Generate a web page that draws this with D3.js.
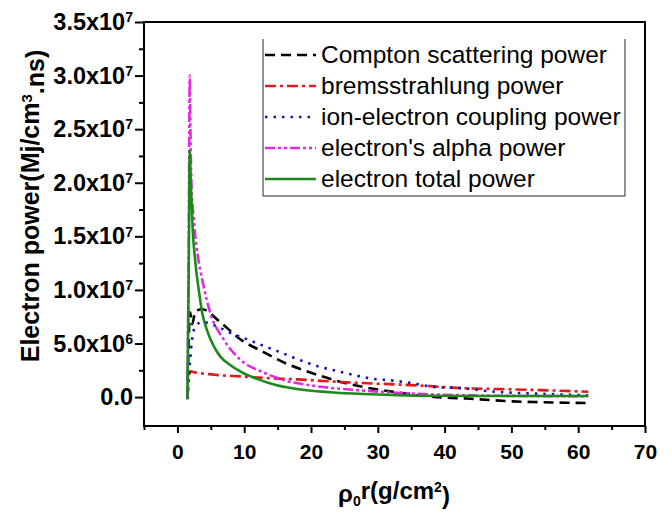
<!DOCTYPE html>
<html lang="en">
<head>
    <meta charset="utf-8">
    <title>Electron power</title>
    <script src="https://d3js.org/d3.v7.min.js"></script>
    <style>
        body { margin: 0; background: #fff; }
        text { font-family: "Liberation Sans", Arial, sans-serif; }
    </style>
</head>
<body onload="main()">
    <svg width="672" height="513" id="svg1"></svg>
    <script>
        // [rho0 r (g/cm2), power (Mj/cm3.ns)]
        var compton = [[1.5, 0], [1.9, 7.9e6], [2.2, 6.8e6], [2.7, 8.0e6], [3.7, 8.2e6], [6.4, 7.0e6],
            [9.4, 5.4e6], [12.9, 4.2e6], [16.4, 3.1e6], [19.9, 2.3e6], [23.9, 1.5e6], [27.9, 0.93e6],
            [32.8, 0.45e6], [36.8, 0.12e6], [40, -0.05e6], [43.3, -0.14e6], [46.8, -0.28e6],
            [50.2, -0.4e6], [53.8, -0.47e6], [58.3, -0.53e6], [61.5, -0.56e6]];
        var brems = [[1.5, 0], [1.9, 2.4e6], [2.7, 2.3e6], [6.1, 2.05e6], [9.4, 1.93e6], [14.4, 1.74e6],
            [17.9, 1.65e6], [25.4, 1.37e6], [32.8, 1.18e6], [37.8, 1.02e6], [43.3, 0.81e6],
            [48.7, 0.74e6], [54.3, 0.65e6], [61.5, 0.5e6]];
        var ionElectron = [[1.5, -0.2e6], [1.95, 3.8e6], [2.2, 5.4e6], [2.7, 6.6e6], [3.7, 7.0e6],
            [5.9, 6.6e6], [7.9, 6.0e6], [10.4, 5.4e6], [12.4, 4.9e6], [14.9, 4.3e6], [20.9, 2.9e6],
            [24.8, 2.3e6], [28.8, 1.75e6], [32.8, 1.5e6], [35.1, 1.3e6], [38.3, 0.95e6], [43.3, 0.8e6],
            [45.7, 0.6e6], [50.2, 0.4e6], [54.7, 0.3e6], [61.5, 0.15e6]];
        var alpha = [[1.5, 0], [1.7, 1.5e7], [1.85, 3.0e7], [1.95, 2.5e7], [2.1, 2.0e7], [2.45, 1.66e7],
            [3.2, 1.26e7], [3.7, 1.1e7], [4.9, 7.9e6], [6.9, 5.4e6], [9.4, 3.5e6], [12.9, 2.3e6],
            [16.4, 1.5e6], [20.4, 1.05e6], [27.9, 0.6e6], [36.8, 0.28e6], [45, 0.15e6], [52, 0.1e6],
            [61.5, 0.08e6]];
        var total = [[1.5, -0.2e6], [1.7, 1.2e7], [1.85, 2.3e7], [2.0, 2.0e7], [2.3, 1.55e7], [2.7, 1.25e7],
            [3.2, 1.0e7], [3.7, 7.9e6], [4.4, 6.3e6], [5.4, 4.8e6], [6.4, 3.8e6], [7.9, 3.0e6],
            [9.4, 2.4e6], [11.9, 1.7e6], [14.9, 1.1e6], [17.9, 0.75e6], [22.9, 0.45e6], [27.9, 0.28e6],
            [32.8, 0.18e6], [37.8, 0.12e6], [45, 0.1e6], [52, 0.1e6], [61.5, 0.1e6]];

        var seriesNames = ["Compton scattering power", "bremsstrahlung power", "ion-electron coupling power",
            "electron's alpha power", "electron total power"];
        var xTicks = [0, 10, 20, 30, 40, 50, 60, 70];
        var xMinor = [-5, 5, 15, 25, 35, 45, 55, 65];
        var yTicks = [0, 5e6, 1e7, 1.5e7, 2e7, 2.5e7, 3e7, 3.5e7];
        var yMinor = [2.5e6, 7.5e6, 1.25e7, 1.75e7, 2.25e7, 2.75e7, 3.25e7];

        function main() {
            var svg = d3.select("#svg1");
            var left = 144, right = 645, top = 22, bottom = 426;

            var x = d3.scaleLinear().domain([-5, 70]).range([left, right]);
            var y = d3.scaleLinear().domain([-2.7e6, 3.5e7]).range([bottom, top]);

            var styles = [
                { color: "#000000", dash: "10,6" },
                { color: "#e3191c", dash: "11,4,3,4" },
                { color: "#1414b4", dash: "2.5,6" },
                { color: "#e428e4", dash: "10,3,3,3,3,3" },
                { color: "#1b8a1b", dash: null }
            ];
            var allData = [compton, brems, ionElectron, alpha, total];

            svg.append("defs").append("clipPath").attr("id", "clip")
                .append("rect").attr("x", left).attr("y", top)
                .attr("width", right - left).attr("height", bottom - top);

            var line = d3.line()
                .x(function (d) { return x(d[0]); })
                .y(function (d) { return y(d[1]); })
                .curve(d3.curveMonotoneX);

            var plot = svg.append("g").attr("clip-path", "url(#clip)");
            allData.forEach(function (data, i) {
                plot.append("path")
                    .datum(data)
                    .attr("fill", "none")
                    .attr("stroke", styles[i].color)
                    .attr("stroke-width", 2.6)
                    .attr("stroke-dasharray", styles[i].dash)
                    .attr("d", line);
            });

            // x axis
            var gx = svg.append("g").attr("transform", "translate(0," + bottom + ")")
                .call(d3.axisBottom(x).tickValues(xTicks).tickSizeInner(7).tickSizeOuter(0).tickPadding(11));
            svg.append("g").attr("transform", "translate(0," + bottom + ")")
                .call(d3.axisBottom(x).tickValues(xMinor).tickSizeInner(4).tickSizeOuter(0).tickFormat(""))
                .call(function (g) { g.select(".domain").remove(); });
            gx.select(".domain").remove();
            gx.selectAll("text").attr("font-size", "21px").attr("font-weight", "bold").attr("fill", "#000")
                .style("font-family", '"Liberation Sans", Arial, sans-serif');

            // y axis
            var gy = svg.append("g").attr("transform", "translate(" + left + ",0)")
                .call(d3.axisLeft(y).tickValues(yTicks).tickSizeInner(9).tickSizeOuter(0).tickPadding(2));
            svg.append("g").attr("transform", "translate(" + left + ",0)")
                .call(d3.axisLeft(y).tickValues(yMinor).tickSizeInner(5).tickSizeOuter(0).tickFormat(""))
                .call(function (g) { g.select(".domain").remove(); });
            gy.select(".domain").remove();
            gy.selectAll("text").each(function (d) {
                var t = d3.select(this).text(null)
                    .attr("font-size", "23.5px").attr("font-weight", "bold").attr("fill", "#000")
                    .style("font-family", '"Liberation Sans", Arial, sans-serif');
                if (d === 0) { t.text("0.0"); return; }
                var e = Math.floor(Math.log10(d) + 1e-9);
                t.append("tspan").text((d / Math.pow(10, e)).toFixed(1) + "x10");
                t.append("tspan").attr("dy", "-0.55em").attr("font-size", "14px").text(e);
            });
            svg.selectAll(".tick line").attr("stroke-width", 2);

            // frame
            svg.append("rect")
                .attr("x", left).attr("y", top)
                .attr("width", right - left).attr("height", bottom - top)
                .attr("fill", "none").attr("stroke", "#000").attr("stroke-width", 2);

            // axis titles
            var yt = svg.append("text")
                .attr("transform", "translate(39,206) rotate(-90)")
                .attr("text-anchor", "middle")
                .attr("font-size", "25px").attr("font-weight", "bold");
            yt.append("tspan").text("Electron power(Mj/cm");
            yt.append("tspan").attr("dy", "-0.5em").attr("font-size", "15px").text("3");
            yt.append("tspan").attr("dy", "0.5em").text(".ns)");

            var xt = svg.append("text")
                .attr("x", 394).attr("y", 502)
                .attr("text-anchor", "middle")
                .attr("font-size", "24px").attr("font-weight", "bold");
            xt.append("tspan").text("ρ");
            xt.append("tspan").attr("dy", "0.3em").attr("font-size", "14px").text("0");
            xt.append("tspan").attr("dy", "-0.3em").text("r(g/cm");
            xt.append("tspan").attr("dy", "-0.5em").attr("font-size", "14px").text("2");
            xt.append("tspan").attr("dy", "0.5em").text(")");

            // legend
            var lg = svg.append("g");
            lg.append("path")
                .attr("d", "M263,39V196H625V39")
                .attr("fill", "none").attr("stroke", "#222").attr("stroke-width", 1);
            seriesNames.forEach(function (name, i) {
                var yy = 55 + i * 31;
                lg.append("line")
                    .attr("x1", 265).attr("x2", 316).attr("y1", yy).attr("y2", yy)
                    .attr("stroke", styles[i].color).attr("stroke-width", 2.6)
                    .attr("stroke-dasharray", styles[i].dash);
                lg.append("text")
                    .attr("x", 321).attr("y", yy + 8)
                    .attr("font-size", "24.5px")
                    .text(name);
            });
        }
    </script>
</body>
</html>
